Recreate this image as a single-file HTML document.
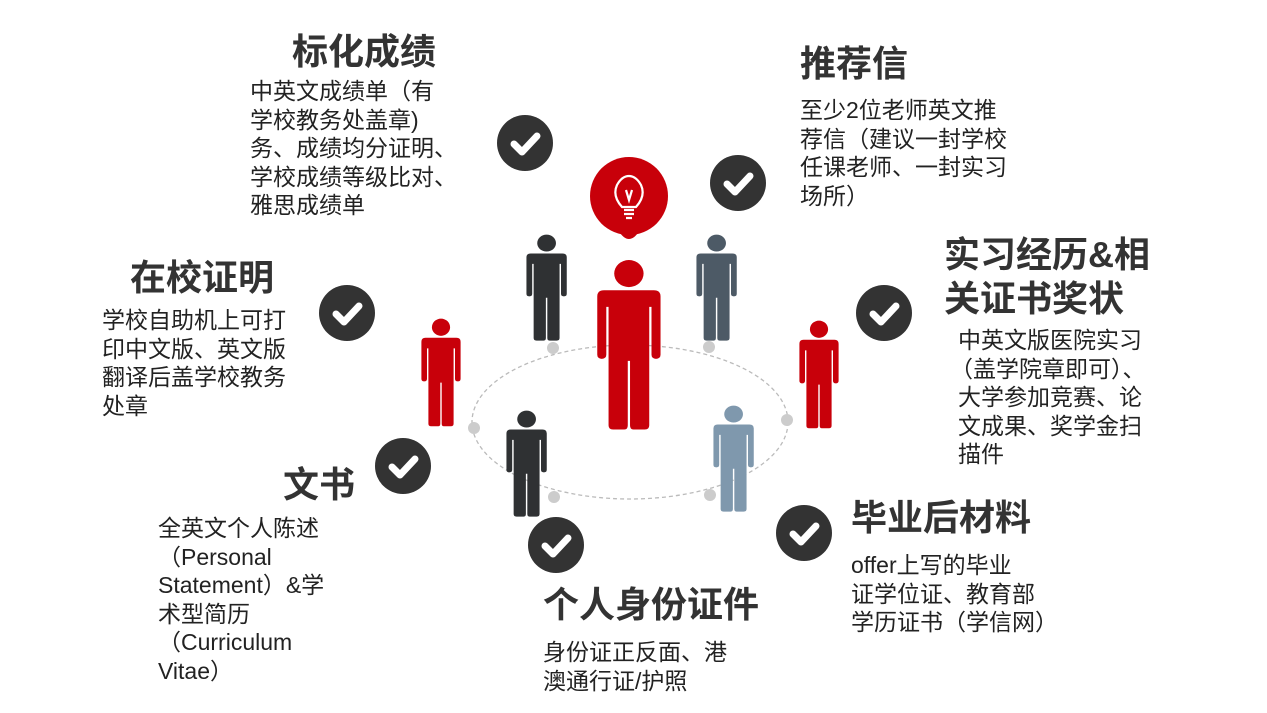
<!DOCTYPE html>
<html><head><meta charset="utf-8"><style>
html,body{margin:0;padding:0;background:#fff;}
#c{position:relative;width:1267px;height:713px;overflow:hidden;font-family:"Liberation Sans","Noto Sans CJK SC",sans-serif;}
.t{position:absolute;font-weight:bold;font-size:36px;color:#333;line-height:43px;white-space:nowrap;}
.b{position:absolute;font-size:23px;color:#222;line-height:28.5px;white-space:nowrap;}
</style></head><body><div id="c">
<svg width="1267" height="713" style="position:absolute;left:0;top:0">
<defs>
<g id="p">
<circle cx="30" cy="14" r="13"/>
<path d="M8 30 H52 Q58 30 58 36 V92 Q58 96 54 96 Q50 96 50 92 V46 H48 V160 Q48 164 44 164 H34 Q31 164 31 160 V98 H29 V160 Q29 164 26 164 H16 Q12 164 12 160 V46 H10 V92 Q10 96 6 96 Q2 96 2 92 V36 Q2 30 8 30Z"/>
</g>
<g id="k"><circle r="28" fill="#333"/><path d="M-11 1 L-3 9 L12 -7" stroke="#fff" stroke-width="7" fill="none" stroke-linecap="round" stroke-linejoin="round"/></g>
</defs>
<ellipse cx="630" cy="422" rx="158" ry="77" fill="none" stroke="#bbb" stroke-width="1.3" stroke-dasharray="4 3"/>
<g fill="#ccc"><circle cx="474" cy="428" r="6"/><circle cx="787" cy="420" r="6"/><circle cx="553" cy="348" r="6"/><circle cx="709" cy="347" r="6"/><circle cx="554" cy="497" r="6"/><circle cx="710" cy="495" r="6"/></g>
<g fill="#2f3133"><use href="#p" transform="translate(525,234) scale(0.72,0.65)"/><use href="#p" transform="translate(505,410) scale(0.72,0.65)"/></g>
<use href="#p" fill="#4d5a66" transform="translate(695,234) scale(0.72,0.65)"/>
<use href="#p" fill="#7f98ad" transform="translate(712,405) scale(0.72,0.65)"/>
<g fill="#c8000a"><use href="#p" transform="translate(420,318) scale(0.7,0.66)"/><use href="#p" transform="translate(798,320) scale(0.7,0.66)"/><use href="#p" transform="translate(595,259) scale(1.13,1.04)"/></g>
<circle cx="629" cy="196" r="39" fill="#c8000a"/>
<path d="M618 230 Q629 248 640 230Z" fill="#c8000a"/>
<g stroke="#fff" stroke-width="2.2" fill="none"><path d="M622 207 Q612 196 617 185 Q622 176 629 176 Q636 176 641 185 Q646 196 636 207Z"/><path d="M624 210 H634 M624 214 H634 M626 218 H632 M626 190 L629 200 L632 190"/></g>
<use href="#k" transform="translate(525,143)"/>
<use href="#k" transform="translate(738,183)"/>
<use href="#k" transform="translate(347,313)"/>
<use href="#k" transform="translate(884,313)"/>
<use href="#k" transform="translate(403,466)"/>
<use href="#k" transform="translate(556,545)"/>
<use href="#k" transform="translate(804,533)"/>
</svg>
<div class="t" style="left:292px;top:30px">标化成绩</div>
<div class="b" style="left:250px;top:77px">中英文成绩单（有<br>学校教务处盖章)<br>务、成绩均分证明、<br>学校成绩等级比对、<br>雅思成绩单</div>
<div class="t" style="left:800px;top:42px">推荐信</div>
<div class="b" style="left:800px;top:96px">至少2位老师英文推<br>荐信（建议一封学校<br>任课老师、一封实习<br>场所）</div>
<div class="t" style="left:130px;top:256px">在校证明</div>
<div class="b" style="left:102px;top:306px">学校自助机上可打<br>印中文版、英文版<br>翻译后盖学校教务<br>处章</div>
<div class="t" style="left:944px;top:233px;line-height:44px">实习经历&amp;相<br>关证书奖状</div>
<div class="b" style="left:958px;top:326px">中英文版医院实习<br><span style="margin-left:-8px">（盖学院章即可）、</span><br>大学参加竞赛、论<br>文成果、奖学金扫<br>描件</div>
<div class="t" style="left:283px;top:463px">文书</div>
<div class="b" style="left:158px;top:514px">全英文个人陈述<br>（Personal<br>Statement）&amp;学<br>术型简历<br>（Curriculum<br>Vitae）</div>
<div class="t" style="left:543px;top:583px">个人身份证件</div>
<div class="b" style="left:543px;top:638px">身份证正反面、港<br>澳通行证/护照</div>
<div class="t" style="left:851px;top:496px">毕业后材料</div>
<div class="b" style="left:851px;top:551px">offer上写的毕业<br>证学位证、教育部<br>学历证书（学信网）</div>
</div></body></html>
